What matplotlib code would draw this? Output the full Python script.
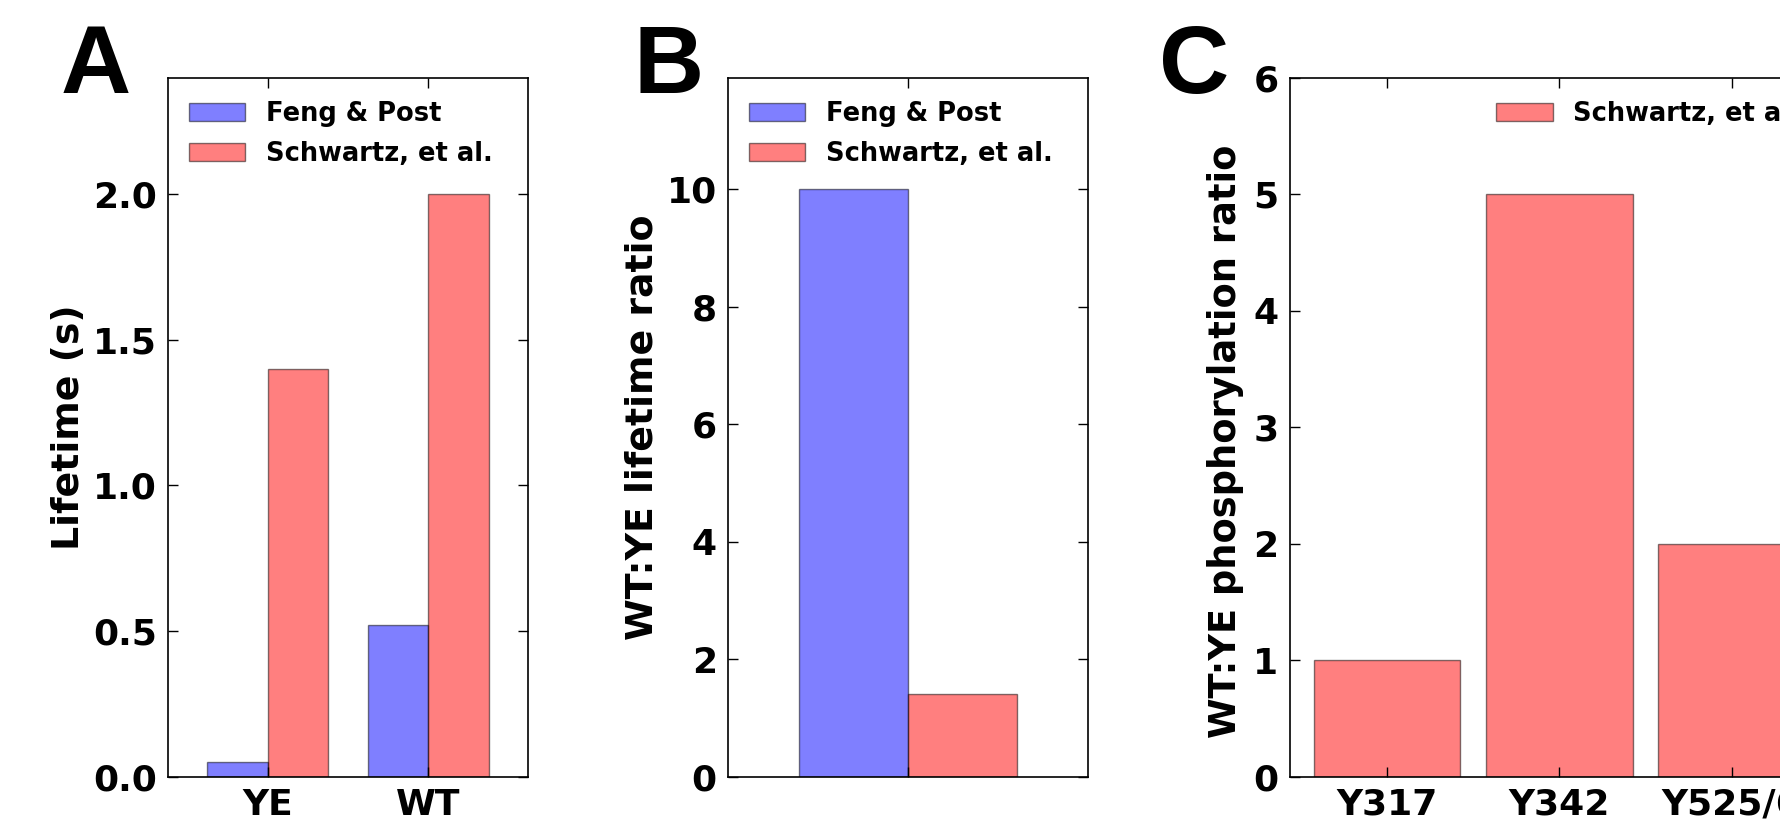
import matplotlib
matplotlib.use('Agg')
import matplotlib.pyplot as plt
import numpy as np

# panel A: lifetimes
groups_a = ['YE', 'WT']
feng_lifetime = [0.052, 0.52]
schwartz_lifetime = [1.4, 2.0]

# panel B: WT:YE lifetime ratio
feng_ratio = [10.0]
schwartz_ratio = [1.4]

# panel C: WT:YE phosphorylation ratio
sites = ['Y317', 'Y342', 'Y525/6']
phospho_ratio = [1.0, 5.0, 2.0]

plt.rcParams['font.family'] = 'DejaVu Sans'
plt.rcParams['font.weight'] = 'bold'
plt.rcParams['axes.labelweight'] = 'bold'
plt.rcParams['font.size'] = 26
plt.rcParams['axes.labelsize'] = 27.3

W, H = 1781, 822
fig = plt.figure(figsize=(W / 100, H / 100), dpi=100)

bottom = (H - 776.7) / H
height = (776.7 - 77.5) / H
width = 0.375
blue = dict(color='blue', alpha=0.5, edgecolor='black', linewidth=1)
red = dict(color='red', alpha=0.5, edgecolor='black', linewidth=1)


def style(ax):
    ax.tick_params(direction='in', top=True, right=True, length=7, width=1, pad=8)
    for s in ax.spines.values():
        s.set_linewidth(1.2)


def add_legend(ax, shift):
    ax.legend(loc='upper right', frameon=False, fontsize=18.5, labelspacing=0.55,
              handlelength=2.2, bbox_to_anchor=(1 - shift, 1))


# A
axA = fig.add_axes([167.9 / W, bottom, 360 / W, height])
x = np.arange(len(groups_a))
axA.bar(x - width / 2, feng_lifetime, width, label='Feng & Post', **blue)
axA.bar(x + width / 2, schwartz_lifetime, width, label='Schwartz, et al.', **red)
axA.set_xticks(x)
axA.set_xticklabels(groups_a)
axA.set_xlim(-0.62, len(groups_a) - 1 + 0.62)
axA.set_ylim(0, 2.4)
axA.set_yticks([0, 0.5, 1.0, 1.5, 2.0])
axA.set_ylabel('Lifetime (s)')
style(axA)
add_legend(axA, 12 / 360)

# B
axB = fig.add_axes([727.9 / W, bottom, 360 / W, height])
axB.bar([-width / 2], feng_ratio, width, label='Feng & Post', **blue)
axB.bar([width / 2], schwartz_ratio, width, label='Schwartz, et al.', **red)
axB.set_xticks([0])
axB.set_xticklabels([''])
axB.set_xlim(-0.62, 0.62)
axB.set_ylim(0, 11.9)
axB.set_yticks([0, 2, 4, 6, 8, 10])
axB.set_ylabel('WT:YE lifetime ratio')
style(axB)
add_legend(axB, 12 / 360)

# C (runs off the right edge of the figure)
axC = fig.add_axes([1289.6 / W, bottom, 539.5 / W, height])
xc = np.arange(len(sites))
axC.bar(xc, phospho_ratio, 0.85, label='Schwartz, et al.', **red)
axC.set_xticks(xc)
axC.set_xticklabels(sites)
axC.set_xlim(-0.565, len(sites) - 1 + 0.565)
axC.set_ylim(0, 6)
axC.set_ylabel('WT:YE phosphorylation ratio', fontsize=26.5)
axC.yaxis.set_label_coords(-0.085, 0.48)
style(axC)
add_legend(axC, 6 / 539.5)

for lx, letter in [(61, 'A'), (634, 'B'), (1159, 'C')]:
    fig.text(lx / W, 1 - 92.7 / H, letter, fontsize=70, family='Liberation Sans',
             weight='bold', va='baseline', ha='left')

fig.savefig('out.png', dpi=100)
